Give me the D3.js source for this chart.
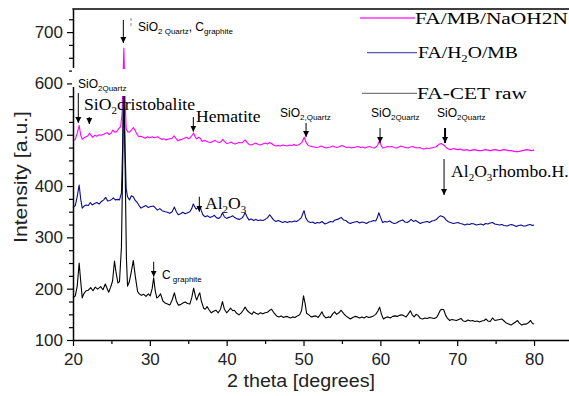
<!DOCTYPE html>
<html>
<head>
<meta charset="utf-8">
<script src="https://cdn.jsdelivr.net/npm/d3@7"></script>
<style>
body { margin: 0; background: #fff; }
svg { display: block; }
</style>
</head>
<body>
<svg id="chart" width="569" height="396"></svg>
<script>
// XRD patterns, [2 theta, intensity]
const facetRaw = [[20.0,182],[20.3,186],[20.55,205],[20.8,250],[21.0,215],[21.2,182],[21.4,190],[21.7,196],[22.0,197],[22.3,202],[22.6,196],[22.9,203],[23.2,199],[23.6,204],[23.9,198],[24.2,209],[24.45,200],[24.65,193],[24.9,203],[25.15,215],[25.4,254],[25.6,232],[25.85,211],[26.05,214],[26.3,280],[26.45,420],[26.62,605],[26.8,420],[26.95,260],[27.1,205],[27.3,212],[27.55,230],[27.85,255],[28.1,225],[28.4,195],[28.6,190],[28.9,187],[29.2,189],[29.5,185],[29.8,190],[30.05,186],[30.3,200],[30.5,221],[30.7,196],[30.9,182],[31.1,184],[31.4,190],[31.7,176],[32.0,172],[32.3,170],[32.6,168],[32.9,178],[33.2,192],[33.45,176],[33.7,168],[34.0,169],[34.3,172],[34.6,174],[34.9,171],[35.2,170],[35.45,182],[35.7,201],[35.95,184],[36.1,178],[36.3,186],[36.5,192],[36.7,176],[37.0,162],[37.2,160],[37.45,165],[37.7,159],[38.0,153],[38.3,156],[38.6,158],[38.9,153],[39.2,160],[39.45,175],[39.7,160],[40.0,153],[40.3,158],[40.5,162],[40.8,157],[41.0,158],[41.3,152],[41.6,149],[41.9,153],[42.15,158],[42.4,164],[42.7,157],[43.0,153],[43.3,150],[43.5,155],[43.8,152],[44.1,150],[44.4,153],[44.7,151],[45.0,153],[45.3,154],[45.6,158],[45.85,160],[46.1,154],[46.5,147],[46.8,145],[47.1,147],[47.4,144],[47.7,146],[48.0,145],[48.3,143],[48.6,145],[48.9,144],[49.2,147],[49.5,149],[49.75,158],[50.0,186],[50.2,172],[50.4,152],[50.7,149],[51.0,145],[51.3,146],[51.6,147],[51.9,144],[52.2,150],[52.4,155],[52.6,148],[52.9,143],[53.2,145],[53.5,144],[53.8,151],[54.05,155],[54.3,150],[54.6,153],[54.9,158],[55.2,152],[55.5,147],[55.8,144],[56.1,141],[56.4,144],[56.7,146],[57.0,145],[57.3,143],[57.6,145],[57.9,143],[58.2,146],[58.5,144],[58.8,145],[59.1,147],[59.4,150],[59.7,157],[59.9,164],[60.15,150],[60.4,141],[60.7,144],[61.0,145],[61.3,143],[61.6,146],[61.9,147],[62.2,146],[62.5,148],[62.8,149],[63.1,147],[63.35,145],[63.6,150],[63.9,157],[64.15,149],[64.4,145],[64.65,150],[64.9,148],[65.2,142],[65.5,141],[65.8,143],[66.1,142],[66.4,144],[66.7,143],[67.0,142],[67.3,144],[67.55,150],[67.8,158],[68.0,160],[68.25,159],[68.5,148],[68.75,142],[69.0,138],[69.3,140],[69.6,139],[69.9,138],[70.2,140],[70.5,142],[70.8,137],[71.1,136],[71.4,139],[71.7,137],[72.0,138],[72.3,136],[72.6,137],[72.9,135],[73.2,137],[73.5,138],[73.75,141],[74.0,137],[74.3,136],[74.6,143],[74.9,138],[75.2,139],[75.5,140],[75.8,141],[76.1,137],[76.4,133],[76.7,131],[77.0,129],[77.3,132],[77.6,135],[77.85,138],[78.1,133],[78.4,129],[78.7,131],[79.0,131],[79.3,134],[79.55,138],[79.8,132],[80.0,131]];

const faH2oMb = [[20.0,358],[20.3,362],[20.55,380],[20.8,402],[21.0,375],[21.2,357],[21.45,361],[21.7,363],[22.0,362],[22.25,368],[22.5,363],[22.8,366],[23.1,368],[23.4,365],[23.7,370],[24.0,373],[24.25,378],[24.5,371],[24.8,372],[25.05,374],[25.25,377],[25.5,373],[25.8,374],[26.05,373],[26.3,386],[26.45,470],[26.6,615],[26.78,470],[26.92,395],[27.1,379],[27.35,373],[27.6,381],[27.85,379],[28.1,372],[28.35,368],[28.6,362],[28.85,357],[29.1,359],[29.5,362],[29.8,358],[30.1,360],[30.5,361],[30.8,356],[31.0,353],[31.3,356],[31.6,352],[32.0,350],[32.3,349],[32.6,347],[32.9,350],[33.2,359],[33.45,350],[33.7,344],[34.0,346],[34.3,349],[34.6,346],[34.9,348],[35.2,350],[35.45,356],[35.65,365],[35.9,358],[36.05,355],[36.3,359],[36.5,361],[36.7,352],[36.9,344],[37.2,340],[37.5,342],[37.8,339],[38.1,340],[38.4,343],[38.7,338],[39.0,337],[39.25,341],[39.45,348],[39.7,340],[40.0,337],[40.3,339],[40.55,340],[40.8,342],[41.1,338],[41.4,336],[41.7,335],[42.0,338],[42.2,342],[42.4,348],[42.65,340],[42.9,334],[43.2,336],[43.5,333],[43.8,335],[44.1,333],[44.4,334],[44.7,333],[45.0,335],[45.3,338],[45.6,344],[45.85,339],[46.1,334],[46.4,331],[46.7,333],[47.0,331],[47.3,329],[47.6,331],[47.9,329],[48.2,331],[48.5,330],[48.8,332],[49.1,331],[49.4,334],[49.7,338],[49.9,346],[50.07,352],[50.3,338],[50.6,331],[50.9,329],[51.2,330],[51.5,327],[51.8,329],[52.1,328],[52.4,331],[52.8,326],[53.1,328],[53.5,331],[53.8,330],[54.1,334],[54.4,335],[54.7,337],[54.9,339],[55.2,334],[55.5,333],[55.8,329],[56.1,327],[56.4,329],[56.7,330],[57.0,331],[57.3,328],[57.6,330],[57.9,329],[58.2,327],[58.5,330],[58.8,331],[59.1,333],[59.4,332],[59.6,338],[59.8,348],[60.0,340],[60.3,329],[60.6,331],[60.9,330],[61.2,332],[61.5,329],[61.8,327],[62.1,328],[62.4,331],[62.7,333],[62.9,334],[63.2,330],[63.5,329],[63.8,332],[64.0,335],[64.3,331],[64.6,333],[64.9,330],[65.2,327],[65.5,329],[65.8,330],[66.1,331],[66.4,329],[66.7,332],[67.0,333],[67.3,335],[67.55,339],[67.8,342],[68.0,341],[68.3,339],[68.55,334],[68.8,331],[69.1,329],[69.5,327],[69.8,328],[70.1,329],[70.4,327],[70.7,326],[71.0,324],[71.3,326],[71.6,325],[71.9,327],[72.2,326],[72.5,324],[72.8,325],[73.1,326],[73.4,324],[73.7,327],[74.0,326],[74.3,328],[74.6,329],[74.9,326],[75.2,325],[75.5,324],[75.8,325],[76.1,323],[76.5,322],[76.8,324],[77.1,325],[77.4,323],[77.7,321],[78.0,323],[78.3,324],[78.6,322],[78.9,322],[79.2,324],[79.5,325],[79.8,323],[80.0,324]];

const faMbNaoh = [[20.0,488],[20.3,491],[20.55,503],[20.8,518],[21.0,500],[21.2,491],[21.45,494],[21.7,496],[21.95,498],[22.15,503],[22.4,498],[22.6,495],[22.85,499],[23.1,497],[23.4,500],[23.7,499],[24.0,501],[24.25,503],[24.45,504],[24.7,500],[24.95,503],[25.2,509],[25.45,505],[25.7,506],[25.95,512],[26.2,516],[26.38,540],[26.62,669],[26.8,560],[26.92,512],[27.1,506],[27.35,505],[27.6,509],[27.85,514],[28.1,508],[28.35,500],[28.6,496],[28.85,497],[29.1,495],[29.4,493],[29.7,496],[30.0,494],[30.3,496],[30.55,494],[30.8,495],[31.05,496],[31.3,493],[31.55,491],[31.8,492],[32.05,490],[32.3,491],[32.6,492],[32.9,493],[33.15,498],[33.4,493],[33.65,488],[33.9,490],[34.2,491],[34.5,493],[34.8,495],[35.05,492],[35.25,494],[35.5,499],[35.7,503],[35.9,496],[36.1,492],[36.35,495],[36.55,493],[36.8,487],[37.05,489],[37.3,488],[37.6,486],[37.9,485],[38.2,487],[38.5,489],[38.8,486],[39.05,485],[39.3,487],[39.5,491],[39.7,487],[40.0,483],[40.3,484],[40.6,486],[40.85,483],[41.1,482],[41.4,484],[41.7,485],[42.0,484],[42.2,487],[42.4,490],[42.65,485],[42.9,481],[43.2,480],[43.5,482],[43.8,484],[44.1,481],[44.4,480],[44.7,482],[45.0,484],[45.3,482],[45.6,485],[45.85,483],[46.1,480],[46.4,478],[46.7,479],[47.0,478],[47.3,480],[47.6,479],[47.9,478],[48.2,480],[48.5,479],[48.75,481],[49.0,479],[49.3,480],[49.55,482],[49.8,485],[50.0,492],[50.1,495],[50.3,486],[50.55,480],[50.8,478],[51.1,477],[51.4,476],[51.7,475],[52.0,476],[52.3,478],[52.6,476],[52.9,474],[53.2,475],[53.5,476],[53.8,478],[54.1,476],[54.4,475],[54.7,477],[55.0,479],[55.3,477],[55.6,475],[55.9,476],[56.2,474],[56.5,475],[56.8,476],[57.1,477],[57.4,475],[57.7,476],[58.0,474],[58.3,476],[58.6,477],[58.9,475],[59.2,474],[59.45,476],[59.65,480],[59.85,487],[60.05,481],[60.3,474],[60.6,475],[60.9,477],[61.2,476],[61.5,477],[61.8,475],[62.1,474],[62.4,476],[62.7,478],[63.0,476],[63.3,475],[63.6,474],[63.9,476],[64.2,477],[64.5,475],[64.8,474],[65.1,475],[65.4,473],[65.7,472],[66.0,474],[66.3,473],[66.6,474],[66.9,475],[67.2,476],[67.45,479],[67.7,482],[67.9,483],[68.15,481],[68.4,478],[68.65,474],[68.9,472],[69.2,471],[69.5,473],[69.8,472],[70.1,471],[70.4,472],[70.7,470],[71.0,470],[71.3,471],[71.6,469],[71.9,470],[72.2,471],[72.5,470],[72.8,469],[73.1,469],[73.4,470],[73.7,471],[74.0,470],[74.3,469],[74.6,470],[74.9,471],[75.2,470],[75.5,469],[75.8,470],[76.1,471],[76.4,470],[76.7,469],[77.0,469],[77.3,468],[77.6,467],[77.9,467],[78.2,468],[78.5,469],[78.8,470],[79.1,471],[79.4,470],[79.7,469],[80.0,470]];

const xTicks = [20, 30, 40, 50, 60, 70, 80];
const xMinor = [25, 35, 45, 55, 65, 75];
const yTicks = [100, 200, 300, 400, 500, 600, 700];
const yMinor = d3.range(125, 746, 25).filter(v => v % 100 !== 0);

// peak markers: 2 theta, arrow tail / head intensity
const arrowTheta = [20.69, 22.12, 26.55, 35.66, 50.33, 59.96, 68.42, 68.29, 36.44, 30.50];
const arrowFrom  = [581, 534.5, 723.5, 534.5, 522.8, 513.1, 513.1, 452.7, 379.2, 252.6];
const arrowTo    = [522.8, 520.9, 678.7, 505.9, 495.6, 483.9, 483.9, 382.5, 350, 223.3];
const arrowBold  = [false, false, false, false, false, false, true, false, false, false];

// phase labels: [text, isSubscript] pieces
const sansLabels = [
    {theta: 20.65, at: 592, parts: [["SiO", 0], ["2Quartz", 1]]},
    {theta: 28.46, at: 702, parts: [["SiO", 0], ["2 Quartz", 1], [", C", 0], ["graphite", 1]]},
    {theta: 46.94, at: 533.6, parts: [["SiO", 0], ["2,Quartz", 1]]},
    {theta: 58.79, at: 533.6, parts: [["SiO", 0], ["2Quartz", 1]]},
    {theta: 67.38, at: 533.6, parts: [["SiO", 0], ["2Quartz", 1]]},
    {theta: 31.58, at: 219, parts: [["C", 0], [" graphite", 1]]}
];
const serifLabels = [
    {theta: 21.43, at: 548, parts: [["SiO", 0], ["2", 1], ["cristobalite", 0]]},
    {theta: 36.01, at: 525, parts: [["Hematite", 0]]},
    {theta: 37.18, at: 354.7, parts: [["Al", 0], ["2", 1], ["O", 0], ["3", 1]]},
    {theta: 69.2, at: 418, parts: [["Al", 0], ["2", 1], ["O", 0], ["3", 1], ["rhombo.H.", 0]]}
];

const seriesNames = ["FA/MB/NaOH2N", "FA/H2O/MB", "FA-CET raw"];
const seriesColors = ["#ff00ff", "#0a0a8c", "#000000"];
const legendColors = ["#ff33ff", "#5858b0", "#7a7a7a"];

const svg = d3.select("#chart");

// set the ranges; the frame runs past 80 degrees to the right edge
const x = d3.scaleLinear().domain([20, 84.55]).range([73, 569]);
const y = d3.scaleLinear().domain([100, 745]).range([340, 9]);

const line = d3.line().x(d => x(d[0])).y(d => y(d[1]));

// draw magenta first so the raw pattern sits on top
[faMbNaoh, faH2oMb, facetRaw].forEach((s, i) => {
    svg.append("path")
        .datum(s)
        .attr("d", line)
        .attr("fill", "none")
        .attr("stroke", seriesColors[i])
        .attr("stroke-width", 1.1)
        .attr("stroke-linejoin", "round");
});

// white box of the SiO2Quartz label that hides the axis and the main peak
svg.append("rect").attr("x", 71).attr("y", 68).attr("width", 5).attr("height", 19).attr("fill", "#fff");
svg.append("rect").attr("x", 76).attr("y", 69).attr("width", 53).attr("height", 27).attr("fill", "#fff");

// axes
const fontSans = "'Liberation Sans', Arial, sans-serif";
const fontSerif = "'Liberation Serif', 'Times New Roman', serif";

svg.append("g")
    .attr("transform", "translate(0,340)")
    .call(d3.axisBottom(x).tickValues(xTicks).tickSize(6).tickSizeOuter(0).tickPadding(7));
svg.append("g")
    .attr("transform", "translate(0,340)")
    .call(d3.axisBottom(x).tickValues(xMinor).tickSize(4).tickSizeOuter(0).tickFormat(""))
    .select(".domain").remove();

svg.append("g")
    .attr("transform", "translate(73,0)")
    .call(d3.axisLeft(y).tickValues(yTicks).tickSize(6).tickSizeOuter(0).tickPadding(4));
svg.append("g")
    .attr("transform", "translate(73,0)")
    .call(d3.axisLeft(y).tickValues(yMinor).tickSize(4).tickSizeOuter(0).tickFormat(""))
    .select(".domain").remove();

svg.selectAll(".tick text")
    .style("font-family", fontSans)
    .style("font-size", "17px")
    .attr("fill", "#222");
svg.selectAll(".domain").attr("stroke-width", 1.5);
svg.selectAll(".tick line").attr("stroke-width", 1.2);

// axis break gap near 600
svg.append("rect").attr("x", 72).attr("y", 68).attr("width", 3).attr("height", 19).attr("fill", "#fff");

// top border
svg.append("line")
    .attr("x1", 72.3).attr("x2", 569)
    .attr("y1", y(745)).attr("y2", y(745))
    .attr("stroke", "#000").attr("stroke-width", 1.5);

// axis titles
svg.append("text")
    .attr("x", 227).attr("y", 387)
    .attr("textLength", 148).attr("lengthAdjust", "spacingAndGlyphs")
    .style("font-family", fontSans).style("font-size", "17.5px")
    .attr("fill", "#222")
    .text("2 theta [degrees]");
svg.append("text")
    .attr("transform", "translate(26.5,243) rotate(-90)")
    .attr("textLength", 132).attr("lengthAdjust", "spacingAndGlyphs")
    .style("font-family", fontSans).style("font-size", "17.5px")
    .attr("fill", "#222")
    .text("Intensity [a.u.]");

// arrows
const defs = svg.append("defs");
defs.append("marker")
    .attr("id", "head")
    .attr("viewBox", "0 0 10 10")
    .attr("refX", 10).attr("refY", 5)
    .attr("markerWidth", 6).attr("markerHeight", 8)
    .attr("markerUnits", "userSpaceOnUse")
    .attr("orient", "auto")
    .append("path").attr("d", "M0,0L10,5L0,10Z").attr("fill", "#000");

arrowTheta.forEach((t, i) => {
    svg.append("line")
        .attr("x1", x(t)).attr("x2", x(t))
        .attr("y1", y(arrowFrom[i])).attr("y2", y(arrowTo[i]))
        .attr("stroke", "#000")
        .attr("stroke-width", arrowBold[i] ? 2 : 1)
        .attr("marker-end", "url(#head)");
});

// dashed leftover mark next to the main peak arrow
svg.append("line")
    .attr("x1", 131).attr("x2", 131).attr("y1", 18).attr("y2", 28)
    .attr("stroke", "#888").attr("stroke-dasharray", "3,2");

function richText(px, py, parts, family, size, subSize, shift) {
    const t = svg.append("text")
        .attr("x", px).attr("y", py)
        .style("font-family", family)
        .style("font-size", size + "px")
        .style("white-space", "pre")
        .attr("fill", "#000");
    let down = false;
    parts.forEach(([s, sub]) => {
        const ts = t.append("tspan").text(s);
        if (sub) {
            ts.style("font-size", subSize + "px");
            if (!down) { ts.attr("dy", shift); down = true; }
        } else if (down) {
            ts.attr("dy", -shift);
            down = false;
        }
    });
    return t;
}

sansLabels.forEach(l => richText(x(l.theta), y(l.at), l.parts, fontSans, 12, 8, 3));
serifLabels.forEach(l => richText(x(l.theta), y(l.at), l.parts, fontSerif, 17.6, 11, 4));

// legend, the serif text is drawn wide in the figure
const legendY = [18, 52.7, 93.3];
const legendLineX = [[360, 415], [367, 417], [362, 417]];
const legendTextX = [415, 418, 417];
const legendBase = [24, 58, 99];
const legendWidth = [153, 100, 110];
const legendParts = [
    [["FA/MB/NaOH2N", 0]],
    [["FA/H", 0], ["2", 1], ["O/MB", 0]],
    [["FA-CET raw", 0]]
];
seriesNames.forEach((name, i) => {
    svg.append("line")
        .attr("x1", legendLineX[i][0]).attr("x2", legendLineX[i][1])
        .attr("y1", legendY[i]).attr("y2", legendY[i])
        .attr("stroke", legendColors[i]).attr("stroke-width", 1.3);
    const t = richText(0, 0, legendParts[i], fontSerif, 17, 11, 4);
    const w = t.node().getComputedTextLength();
    t.attr("transform", "translate(" + legendTextX[i] + "," + legendBase[i] + ") scale(" + (legendWidth[i] / w) + ",1)");
});
</script>
</body>
</html>
